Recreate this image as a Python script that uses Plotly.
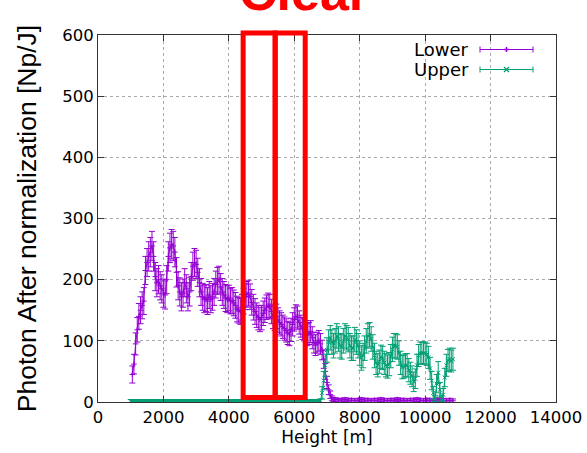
import plotly.graph_objects as go

# ---------------- data ----------------
# Lower channel: dense part (50 m steps) then flat tail (100 m steps)
lower_h = list(range(1050, 7201, 50)) + list(range(7250, 10851, 100))
lower_v = [
    # 1050 - 1950
    45, 62, 95, 118, 140, 150, 158, 165, 215, 228, 238, 245, 255, 238, 205, 195, 200, 190, 185,
    # 2000 - 2950
    178, 175, 200, 238, 252, 258, 255, 245, 212, 190, 180, 172, 178, 195, 185, 172, 180, 205, 222, 228,
    # 3000 - 3950
    225, 212, 195, 180, 172, 168, 170, 165, 175, 168, 172, 180, 192, 198, 200, 188, 180, 175, 170, 168,
    # 4000 - 4950
    170, 165, 166, 162, 158, 152, 150, 148, 155, 165, 172, 176, 178, 172, 163, 155, 148, 142, 138, 135,
    # 5000 - 5950
    138, 145, 150, 155, 158, 156, 148, 140, 137, 140, 134, 130, 127, 123, 120, 117, 113, 111, 118, 127,
    # 6000 - 6950
    135, 140, 138, 130, 124, 120, 118, 115, 110, 112, 115, 105, 97, 93, 97, 100, 95, 85, 70, 50,
    # 7000 - 7200
    32, 20, 12, 6, 4,
    # 7250 - 10850 (flat tail)
    4, 3, 3, 4, 3, 3, 2, 3, 4, 3, 3, 2, 3, 3, 4, 3, 2, 3, 3, 4, 3, 3, 2, 3, 3, 4, 3, 2, 3, 3, 2, 3, 4, 3, 2, 3, 2,
]
lower_err = [
    14, 16, 18, 20, 21, 22, 22, 22, 23, 23, 24, 24, 24, 24, 23, 23, 23, 23, 23,
    23, 23, 23, 24, 24, 24, 24, 24, 24, 23, 23, 23, 23, 23, 23, 23, 23, 23, 23, 23,
    23, 23, 23, 22, 22, 22, 22, 22, 22, 22, 22, 22, 22, 22, 22, 22, 22, 22, 22, 22,
    21, 21, 21, 21, 21, 21, 21, 21, 21, 21, 21, 21, 21, 21, 21, 21, 21, 20, 20, 20,
    20, 20, 20, 20, 20, 20, 20, 20, 20, 20, 20, 19, 19, 19, 19, 19, 19, 19, 19, 19,
    19, 19, 19, 19, 18, 18, 18, 18, 18, 18, 18, 18, 17, 17, 17, 17, 17, 16, 15, 13,
    10, 8, 6, 4, 3,
    3, 3, 3, 3, 3, 3, 3, 3, 3, 3, 3, 3, 3, 3, 3, 3, 3, 3, 3, 3, 3, 3, 3, 3, 3, 3, 3, 3, 3, 3, 3, 3, 3, 3, 3, 3, 3,
]

# Upper channel: zero part then active part (50 m steps)
upper_h = list(range(1000, 6801, 50)) + list(range(6850, 10851, 50))
upper_v = [
    # 1000 - 6800 (zero)
    1, 1, 1, 1, 1, 1, 1, 1, 1, 1, 1, 1, 1, 1, 1, 1, 1, 1, 1, 1,
    1, 1, 1, 1, 1, 1, 1, 1, 1, 1, 1, 1, 1, 1, 1, 1, 1, 1, 1, 1,
    1, 1, 1, 1, 1, 1, 1, 1, 1, 1, 1, 1, 1, 1, 1, 1, 1, 1, 1, 1,
    1, 1, 1, 1, 1, 1, 1, 1, 1, 1, 1, 1, 1, 1, 1, 1, 1, 1, 1, 1,
    1, 1, 1, 1, 1, 1, 1, 1, 1, 1, 1, 1, 1, 1, 1, 1, 1, 1, 1, 1,
    1, 1, 1, 1, 1, 1, 1, 1, 1, 1, 1, 1, 1, 1, 1, 1, 2,
    # 6850 - 6950
    15, 35, 60,
    # 7000 - 7950
    85, 98, 105, 98, 92, 100, 108, 103, 92, 90, 100, 108, 105, 102, 92, 88, 88, 102, 98, 92,
    # 8000 - 8950
    80, 72, 76, 88, 100, 108, 110, 103, 90, 76, 64, 60, 66, 74, 72, 64, 60, 58, 62, 75,
    # 9000 - 9950
    86, 92, 92, 90, 80, 64, 57, 58, 60, 60, 52, 47, 42, 33, 38, 60, 76, 80, 80, 80,
    # 10000 - 10850
    80, 78, 73, 55, 35, 15, 6, 30, 48, 20, 6, 12, 40, 60, 68, 70, 67, 70,
]
upper_err = [
    3, 3, 3, 3, 3, 3, 3, 3, 3, 3, 3, 3, 3, 3, 3, 3, 3, 3, 3, 3,
    3, 3, 3, 3, 3, 3, 3, 3, 3, 3, 3, 3, 3, 3, 3, 3, 3, 3, 3, 3,
    3, 3, 3, 3, 3, 3, 3, 3, 3, 3, 3, 3, 3, 3, 3, 3, 3, 3, 3, 3,
    3, 3, 3, 3, 3, 3, 3, 3, 3, 3, 3, 3, 3, 3, 3, 3, 3, 3, 3, 3,
    3, 3, 3, 3, 3, 3, 3, 3, 3, 3, 3, 3, 3, 3, 3, 3, 3, 3, 3, 3,
    3, 3, 3, 3, 3, 3, 3, 3, 3, 3, 3, 3, 3, 3, 3, 3, 3,
    10, 15, 18,
    20, 20, 20, 20, 20, 20, 20, 20, 20, 20, 20, 20, 20, 20, 20, 20, 20, 20, 20, 20,
    20, 20, 20, 20, 20, 20, 20, 20, 20, 20, 19, 19, 19, 19, 19, 19, 19, 19, 19, 19,
    20, 20, 20, 20, 20, 19, 19, 19, 19, 19, 19, 18, 17, 16, 16, 18, 18, 18, 18, 18,
    18, 18, 18, 18, 15, 10, 5, 15, 18, 12, 5, 10, 15, 18, 18, 18, 18, 18,
]

series_names = ["Lower", "Upper"]
series_colors = ["#9400D3", "#009E73"]

x_ticks = [0, 2000, 4000, 6000, 8000, 10000, 12000, 14000]
y_ticks = [0, 100, 200, 300, 400, 500, 600]

# highlighted height windows (red boxes)
box_edges = [4437, 5416, 6334]

# ---------------- figure ----------------
W, H = 587, 453
ML, MR, MT, MB = 98, 31, 35, 51
PW, PH = W - ML - MR, H - MT - MB


def px2paper_x(px):
    return (px - ML) / PW


def px2paper_y(py):
    return (H - MB - py) / PH


fig = go.Figure()

fig.add_trace(go.Scatter(
    x=lower_h, y=lower_v, name=series_names[0], mode="lines+markers",
    line=dict(color=series_colors[0], width=1),
    marker=dict(symbol="cross-thin", size=4, color=series_colors[0],
                line=dict(color=series_colors[0], width=1)),
    error_y=dict(type="data", array=lower_err, color=series_colors[0], thickness=1, width=3),
    showlegend=False,
))
fig.add_trace(go.Scatter(
    x=upper_h, y=upper_v, name=series_names[1], mode="lines+markers",
    line=dict(color=series_colors[1], width=1),
    marker=dict(symbol="x-thin", size=4, color=series_colors[1],
                line=dict(color=series_colors[1], width=1)),
    error_y=dict(type="data", array=upper_err, color=series_colors[1], thickness=1, width=3),
    showlegend=False,
))

axis_common = dict(
    showline=True, linecolor="#333333", linewidth=1, mirror="ticks",
    ticks="inside", ticklen=6, tickcolor="#333333",
    showgrid=True, gridcolor="#aaaaaa", griddash="dot", gridwidth=1,
    zeroline=False, automargin=False,
    tickfont=dict(family="DejaVu Sans", size=16.5, color="black"),
)

fig.update_xaxes(
    range=[0, 14000], tickvals=x_ticks, ticktext=[str(v) for v in x_ticks],
    title=dict(text="Height [m]", font=dict(family="DejaVu Sans", size=17, color="black"),
               standoff=4),
    **axis_common,
)
fig.update_yaxes(
    range=[0, 600], tickvals=y_ticks, ticktext=[str(v) for v in y_ticks],
    title=dict(text="Photon After normalization [Np/J]",
               font=dict(family="Liberation Sans", size=26.5, color="black"), standoff=17),
    **axis_common,
)

shapes = []
# red boxes
for i in range(len(box_edges) - 1):
    shapes.append(dict(type="rect", xref="x", yref="paper",
                       x0=box_edges[i], x1=box_edges[i + 1],
                       y0=px2paper_y(397.5), y1=px2paper_y(33),
                       line=dict(color="#FF0000", width=5), layer="above"))

# legend keys
annotations = []
key_rows = [49.5, 69.5]
for name, color, py, sym in zip(series_names, series_colors, key_rows, ["+", "x"]):
    y = px2paper_y(py)
    shapes.append(dict(type="line", xref="paper", yref="paper",
                       x0=px2paper_x(480), x1=px2paper_x(533), y0=y, y1=y,
                       line=dict(color=color, width=1)))
    for cx in (480, 533):
        shapes.append(dict(type="line", xref="paper", yref="paper",
                           x0=px2paper_x(cx), x1=px2paper_x(cx),
                           y0=px2paper_y(py - 3), y1=px2paper_y(py + 3),
                           line=dict(color=color, width=1)))
    if sym == "+":
        shapes.append(dict(type="line", xref="paper", yref="paper",
                           x0=px2paper_x(506.5), x1=px2paper_x(506.5),
                           y0=px2paper_y(py - 2.5), y1=px2paper_y(py + 2.5),
                           line=dict(color=color, width=1.5)))
        shapes.append(dict(type="line", xref="paper", yref="paper",
                           x0=px2paper_x(504), x1=px2paper_x(509), y0=y, y1=y,
                           line=dict(color=color, width=1.5)))
    else:
        shapes.append(dict(type="line", xref="paper", yref="paper",
                           x0=px2paper_x(504), x1=px2paper_x(509),
                           y0=px2paper_y(py - 2.5), y1=px2paper_y(py + 2.5),
                           line=dict(color=color, width=1.2)))
        shapes.append(dict(type="line", xref="paper", yref="paper",
                           x0=px2paper_x(504), x1=px2paper_x(509),
                           y0=px2paper_y(py + 2.5), y1=px2paper_y(py - 2.5),
                           line=dict(color=color, width=1.2)))
    annotations.append(dict(text=name, xref="paper", yref="paper",
                            x=px2paper_x(471), y=y, xanchor="right", yanchor="middle",
                            showarrow=False,
                            font=dict(family="DejaVu Sans", size=18, color="black")))

# cut-off red title (the reference shows only its lower part)
annotations.append(dict(text="<b>Clear</b>", xref="paper", yref="paper",
                        x=px2paper_x(304), y=px2paper_y(-8), xanchor="center",
                        yanchor="middle", showarrow=False,
                        font=dict(family="Liberation Sans", size=52, color="#FF0000")))

fig.update_layout(
    width=W, height=H,
    margin=dict(l=ML, r=MR, t=MT, b=MB, pad=0, autoexpand=False),
    paper_bgcolor="white", plot_bgcolor="white",
    shapes=shapes, annotations=annotations,
    showlegend=False,
)

fig.write_html("out.html", config={"displayModeBar": False},
               post_script="document.body.style.margin='0';document.body.style.overflow='hidden';")
